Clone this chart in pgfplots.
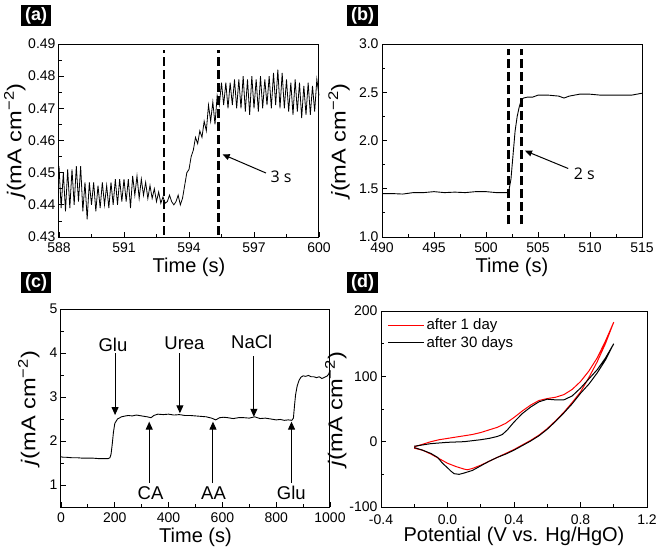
\documentclass[border=0pt]{standalone}
\usepackage{fontspec}
\setmainfont{Liberation Sans}
\newfontfamily\osans{Open Sans}
\usepackage{graphicx}
\usepackage{pgfplots}
\pgfplotsset{compat=1.18}
\usetikzlibrary{arrows.meta}

\pgfplotsset{
  panel/.style={
    scale only axis,
    axis line style={line width=1pt},
    tick align=inside,
    tick pos=left,
    major tick length=5pt,
    minor tick length=3pt,
    tick style={line width=0.8pt, black},
    minor tick num=1,
    tick label style={font=\fontsize{14}{14}\selectfont},
    xticklabel style={inner sep=0pt, yshift=-5.5pt},
    yticklabel style={inner ysep=0pt},
    label style={font=\fontsize{20}{20}\selectfont, inner sep=0pt},
    /pgf/number format/assume math mode=true,
    /pgf/number format/1000 sep={},
    clip=false,
  },
}
\tikzset{
  tag/.style={fill=black, text=white, font=\fontsize{18}{18}\selectfont\bfseries,
    inner xsep=4pt, inner ysep=2pt, anchor=north west},
  dline/.style={black, line width=2.5pt, dash pattern=on 9pt off 4pt},
}
\newcommand{\jlabel}{\scalebox{1.18}[1]{\textit{j}(mA cm\textsuperscript{−2})}}

\begin{document}
\begin{tikzpicture}
\useasboundingbox (0,0) rectangle (657pt,-549pt);

% panel tags
\node[tag] at (21pt,-5pt) {(a)};
\node[tag] at (347pt,-5pt) {(b)};
\node[tag] at (21pt,-272pt) {(c)};
\node[tag] at (347pt,-272pt) {(d)};

% ---------- (a)
\begin{axis}[panel,
  at={(59pt,-237pt)}, anchor=south west,
  width=260pt, height=193pt,
  xmin=588, xmax=600, ymin=0.43, ymax=0.49,
  xtick={588,591,594,597,600},
  ytick={0.43,0.44,0.45,0.46,0.47,0.48,0.49},
  yticklabel style={/pgf/number format/.cd, fixed, fixed zerofill, precision=2},
  xlabel={Time (s)}, ylabel={\jlabel},
  xlabel style={at={(axis description cs:0.5,-0.182)}, anchor=base},
  ylabel style={at={(axis description cs:-0.17,0.5)}, anchor=center},
]
\addplot[black, line width=0.8pt] coordinates {
(588.0,0.452) (588.1,0.439) (588.2,0.450) (588.3,0.438) (588.4,0.451) (588.5,0.439)
(588.6,0.451) (588.7,0.440) (588.8,0.452) (588.9,0.441) (589.0,0.452) (589.1,0.438)
(589.2,0.447) (589.3,0.4355) (589.4,0.447) (589.5,0.440) (589.6,0.447) (589.7,0.438)
(589.8,0.446) (589.9,0.439) (590.0,0.447) (590.1,0.440) (590.2,0.446) (590.3,0.439)
(590.4,0.447) (590.5,0.440) (590.6,0.448) (590.7,0.440) (590.8,0.448) (590.9,0.441)
(591.0,0.448) (591.1,0.441) (591.2,0.448) (591.3,0.439) (591.4,0.449) (591.5,0.443)
(591.6,0.449) (591.7,0.442) (591.8,0.448) (591.9,0.443) (592.0,0.447) (592.1,0.442)
(592.2,0.446) (592.3,0.442) (592.4,0.445) (592.5,0.441) (592.6,0.444) (592.7,0.4405)
(592.8,0.4425) (592.9,0.4405) (593.0,0.441) (593.1,0.443) (593.2,0.441) (593.3,0.440)
(593.4,0.441) (593.5,0.443) (593.6,0.440) (593.7,0.442) (593.8,0.446) (593.9,0.450)
(594.0,0.451) (594.1,0.455) (594.2,0.457) (594.3,0.461) (594.4,0.459) (594.5,0.463)
(594.6,0.461) (594.7,0.466) (594.8,0.463) (594.9,0.471) (595.0,0.466) (595.1,0.472)
(595.2,0.465) (595.3,0.474) (595.4,0.471) (595.5,0.478) (595.6,0.471) (595.7,0.478)
(595.8,0.470) (595.9,0.478) (596.0,0.471) (596.1,0.479) (596.2,0.470) (596.3,0.479)
(596.4,0.470) (596.5,0.480) (596.6,0.469) (596.7,0.479) (596.8,0.468) (596.9,0.480)
(597.0,0.470) (597.1,0.479) (597.2,0.469) (597.3,0.480) (597.4,0.470) (597.5,0.479)
(597.6,0.471) (597.7,0.480) (597.8,0.470) (597.9,0.481) (598.0,0.471) (598.1,0.482)
(598.2,0.470) (598.3,0.481) (598.4,0.470) (598.5,0.479) (598.6,0.469) (598.7,0.478)
(598.8,0.468) (598.9,0.479) (599.0,0.469) (599.1,0.478) (599.2,0.467) (599.3,0.477)
(599.4,0.468) (599.5,0.478) (599.6,0.468) (599.7,0.477) (599.8,0.469) (599.9,0.479)
(600.0,0.474)
};
\addplot[dline] coordinates {(592.85,0.4306) (592.85,0.4881)};
\addplot[dline] coordinates {(595.37,0.4306) (595.37,0.4881)};
\draw[line width=1pt, -{Triangle[length=7pt,width=6pt]}]
  (axis cs:597.55,0.4499) -- (axis cs:595.55,0.4557);
\node[anchor=west, font=\osans\fontsize{16}{16}\selectfont] at (axis cs:597.6,0.4487) {3 s};
\end{axis}

% ---------- (b)
\begin{axis}[panel,
  at={(382pt,-237pt)}, anchor=south west,
  width=260pt, height=193pt,
  xmin=490, xmax=515, ymin=1.0, ymax=3.0,
  xtick={490,495,500,505,510,515},
  ytick={1.0,1.5,2.0,2.5,3.0},
  yticklabel style={/pgf/number format/.cd, fixed, fixed zerofill, precision=1},
  xlabel={Time (s)}, ylabel={\jlabel},
  xlabel style={at={(axis description cs:0.5,-0.182)}, anchor=base},
  ylabel style={at={(axis description cs:-0.165,0.5)}, anchor=center},
]
\addplot[black, line width=0.9pt] coordinates {
(490,1.45) (491,1.45) (492,1.445) (493,1.46) (494,1.46) (495,1.47) (496,1.46)
(497,1.465) (498,1.46) (499,1.47) (500,1.47) (501,1.46) (502,1.46) (502.2,1.48)
(502.4,1.6) (502.6,1.85) (502.8,2.1) (503.0,2.25) (503.2,2.35) (503.4,2.42)
(503.6,2.44) (504,2.45) (504.5,2.45) (505,2.47) (506,2.47) (507,2.46) (507.5,2.44)
(508,2.46) (509,2.48) (510,2.48) (511,2.47) (512,2.47) (513,2.47) (514,2.47)
(514.5,2.48) (515,2.49)
};
\addplot[dline] coordinates {(502.15,1.13) (502.15,2.95)};
\addplot[dline] coordinates {(503.4,1.13) (503.4,2.95)};
\draw[line width=1pt, -{Triangle[length=7pt,width=6pt]}]
  (axis cs:507.9,1.71) -- (axis cs:503.75,1.894);
\node[anchor=west, font=\osans\fontsize{16}{16}\selectfont] at (axis cs:508.1,1.66) {2 s};
\end{axis}

% ---------- (c)
\begin{axis}[panel,
  at={(61pt,-507pt)}, anchor=south west,
  width=269pt, height=198pt,
  xmin=0, xmax=1000, ymin=0.5, ymax=5,
  xtick={0,200,400,600,800,1000},
  ytick={1,2,3,4,5},
  xlabel={Time (s)}, ylabel={\jlabel},
  xlabel style={at={(axis description cs:0.5,-0.177)}, anchor=base},
  ylabel style={at={(axis description cs:-0.12,0.5)}, anchor=center},
]
\addplot[black, line width=0.9pt] coordinates {
(0,1.64) (10,1.63) (20,1.63) (40,1.62) (60,1.62) (80,1.61) (100,1.61) (120,1.61)
(140,1.60) (160,1.60) (175,1.60) (182,1.62) (186,1.70) (190,1.9) (195,2.2)
(200,2.4) (210,2.5) (225,2.55) (240,2.57) (250,2.58) (265,2.57) (280,2.59)
(300,2.57) (320,2.55) (335,2.53) (345,2.58) (360,2.61) (380,2.60) (400,2.61)
(420,2.59) (440,2.60) (460,2.58) (480,2.58) (500,2.57) (520,2.56) (540,2.55)
(560,2.52) (575,2.48) (590,2.53) (605,2.54) (620,2.53) (640,2.51) (660,2.53)
(680,2.53) (700,2.52) (720,2.55) (740,2.51) (760,2.52) (780,2.50) (800,2.48)
(815,2.49) (830,2.47) (845,2.48) (858,2.47) (864,2.52) (868,2.8) (872,3.05)
(878,3.25) (885,3.38) (892,3.45) (900,3.48) (910,3.47) (920,3.49) (930,3.46)
(940,3.46) (950,3.44) (960,3.46) (970,3.42) (980,3.45) (990,3.48) (995,3.52) (1000,3.6)
};
\begin{scope}[line width=1pt, -{Triangle[length=8pt,width=7pt]}]
\draw (axis cs:201,3.99) -- (axis cs:201,2.59);
\draw (axis cs:442,4.0) -- (axis cs:442,2.63);
\draw (axis cs:717,3.93) -- (axis cs:717,2.55);
\draw (axis cs:328,1.04) -- (axis cs:328,2.44);
\draw (axis cs:565,1.04) -- (axis cs:565,2.44);
\draw (axis cs:857,1.04) -- (axis cs:857,2.44);
\end{scope}
\begin{scope}[every node/.style={font=\fontsize{18.5}{18.5}\selectfont}]
\node at (axis cs:193,4.19) {Glu};
\node at (axis cs:459,4.23) {Urea};
\node at (axis cs:709,4.26) {NaCl};
\node at (axis cs:333,0.81) {CA};
\node at (axis cs:567,0.81) {AA};
\node at (axis cs:856,0.81) {Glu};
\end{scope}
\end{axis}

% ---------- (d)
\begin{axis}[panel,
  at={(381pt,-507pt)}, anchor=south west,
  width=266pt, height=196pt,
  xmin=-0.4, xmax=1.2, ymin=-100, ymax=200,
  xtick={-0.4,0,0.4,0.8,1.2},
  ytick={-100,0,100,200},
  xticklabel style={/tikz/yshift=-2pt, /pgf/number format/fixed,
    /pgf/number format/fixed zerofill, /pgf/number format/precision=1},
  xlabel={Potential (V vs. Hg/HgO)}, ylabel={\jlabel},
  xlabel style={at={(axis description cs:0.5,-0.178)}, anchor=base},
  ylabel style={at={(axis description cs:-0.17,0.5)}, anchor=center},
  legend style={at={(axis description cs:0.02,0.975)}, anchor=north west,
    draw=none, fill=none, font=\fontsize{15}{15}\selectfont,
    row sep=1pt, inner sep=1pt},
  legend cell align=left,
  legend image code/.code={\draw[#1] (0pt,0pt) -- (36pt,0pt);},
]
\addplot[red, line width=1pt] coordinates {
(-0.2,-8) (-0.15,-4) (-0.1,0) (-0.05,3) (0,5) (0.05,7) (0.1,9) (0.15,11) (0.2,14)
(0.25,18) (0.3,22) (0.35,28) (0.4,37) (0.45,47) (0.5,56) (0.55,63) (0.6,66)
(0.65,68) (0.7,72) (0.75,80) (0.8,92) (0.85,108) (0.9,128) (0.95,154) (1.0,183)
(0.95,150) (0.9,122) (0.85,98) (0.8,76) (0.75,60) (0.7,45) (0.65,32) (0.6,20)
(0.55,10) (0.5,2) (0.45,-5) (0.4,-12) (0.35,-18) (0.3,-24) (0.25,-30) (0.2,-36)
(0.15,-41) (0.12,-43) (0.1,-42) (0.05,-38) (0,-33) (-0.05,-26) (-0.1,-19)
(-0.15,-13) (-0.2,-10)
};
\addlegendentry{after 1 day}
\addplot[black, line width=1pt] coordinates {
(-0.2,-7) (-0.1,-3) (0,-1) (0.1,0) (0.2,3) (0.25,5) (0.3,8) (0.33,11) (0.36,18)
(0.4,30) (0.45,43) (0.5,53) (0.55,61) (0.6,65) (0.65,64) (0.7,64) (0.75,70)
(0.8,82) (0.85,96) (0.9,110) (0.95,128) (1.0,150)
(0.95,125) (0.9,105) (0.85,88) (0.8,74) (0.75,58) (0.7,44) (0.65,31) (0.6,19)
(0.55,9) (0.5,1) (0.45,-6) (0.4,-13) (0.35,-19) (0.3,-24) (0.25,-30) (0.2,-37)
(0.15,-44) (0.1,-48) (0.07,-50) (0.04,-49) (0.02,-45) (0,-40) (-0.03,-33)
(-0.06,-24) (-0.1,-18) (-0.15,-13) (-0.2,-9)
};
\addlegendentry{after 30 days}
\end{axis}
\end{tikzpicture}
\end{document}
